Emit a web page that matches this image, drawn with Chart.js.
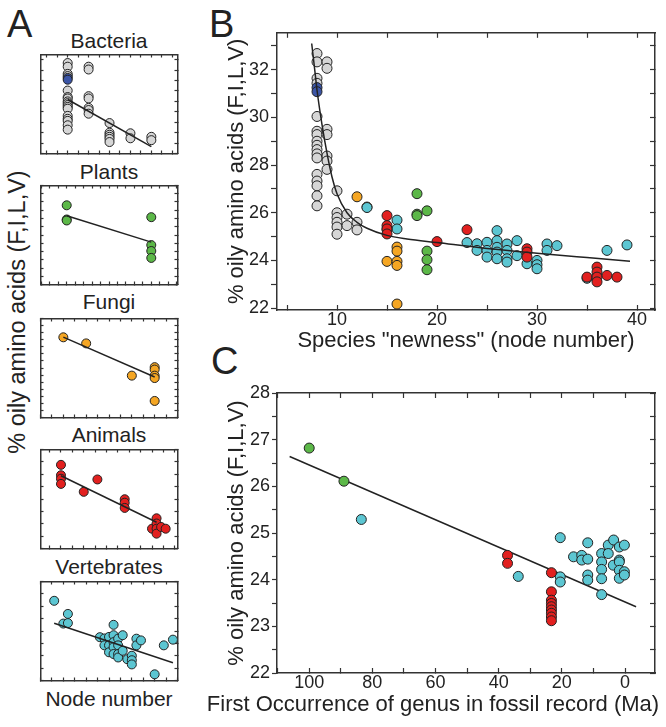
<!DOCTYPE html>
<html>
<head>
<meta charset="utf-8">
<script src="https://cdn.jsdelivr.net/npm/chart.js@4.4.1/dist/chart.umd.min.js"></script>
<style>
  body { margin: 0; background: #fff; }
  #fig { position: relative; width: 666px; height: 727px; overflow: hidden; font-family: 'Liberation Sans', Arial, sans-serif; color: #222; }
  #fig canvas { position: absolute; }
  .lbl { position: absolute; white-space: nowrap; }
  .panel { font-size: 38px; line-height: 38px; }
  .sub { font-size: 21px; line-height: 21px; width: 200px; left: 9px; text-align: center; }
  #ytA { font-size: 23.5px; line-height: 28px; width: 340px; left: -153px; top: 298px; text-align: center; transform: rotate(-90deg); }
</style>
</head>
<body>
<div id="fig">
  <div class="lbl panel" style="left:7px;top:5px">A</div>
  <div class="lbl panel" style="left:209px;top:5px">B</div>
  <div class="lbl panel" style="left:211px;top:342px">C</div>

  <div class="lbl sub" style="top:30px">Bacteria</div>
  <div class="lbl sub" style="top:161px">Plants</div>
  <div class="lbl sub" style="top:291px">Fungi</div>
  <div class="lbl sub" style="top:424px">Animals</div>
  <div class="lbl sub" style="top:556px">Vertebrates</div>
  <div class="lbl sub" style="top:688px">Node number</div>
  <div class="lbl" id="ytA">% oily amino acids (F,I,L,V)</div>

  <canvas id="cBact" width="148" height="110" style="left:35px;top:49px"></canvas>
  <canvas id="cPlant" width="148" height="110" style="left:35px;top:180px"></canvas>
  <canvas id="cFungi" width="148" height="110" style="left:35px;top:313px"></canvas>
  <canvas id="cAnimal" width="148" height="110" style="left:35px;top:444px"></canvas>
  <canvas id="cVert" width="148" height="110" style="left:35px;top:576px"></canvas>
  <canvas id="cB" width="466" height="345" style="left:200px;top:20px"></canvas>
  <canvas id="cC" width="466" height="347" style="left:200px;top:380px"></canvas>
</div>

<script>
// ---------------------------------------------------------------------------
// Dades: node (x) i % d'aminoàcids oliosos (y) per grup
// ---------------------------------------------------------------------------
const bactX = [8, 8, 8, 8, 8, 8, 8, 8, 8, 8, 8, 8, 8, 8, 8, 8, 8,
               9, 9, 9, 9, 9, 9, 9,
               10, 10, 10, 10, 10, 10,
               11, 11, 12, 12];
const bactY = [32.68, 32.33, 31.64, 31.43, 30.04, 29.42, 29.28, 29.0, 28.83, 28.65, 28.47, 28.3, 27.61, 27.33, 27.13, 26.71, 26.29,
               32.33, 32.06, 29.5, 29.28, 28.38, 28.17, 27.82,
               26.92, 26.0, 25.8, 25.6, 25.4, 25.1,
               25.94, 25.46, 25.6, 25.28];
const blueX = [8, 8];
const blueY = [31.25, 31.08];

const plantX = [18, 18, 18, 19, 19, 19, 19];
const plantY = [26.8, 25.94, 25.88, 26.08, 24.39, 24.03, 23.61];

const fungiX = [12, 13, 15, 16, 16, 16, 16, 16];
const fungiY = [26.67, 26.24, 23.96, 24.56, 24.39, 23.96, 23.79, 22.17];

const animalX = [15, 15, 15, 15, 20, 23, 29, 29, 29, 35, 36, 36, 36, 36, 37, 38];
const animalY = [25.88, 25.46, 25.32, 25.11, 24.79, 25.29, 24.49, 24.35, 24.14, 23.3, 23.72, 23.51, 23.3, 23.1, 23.37, 23.3];

const vertX = [13, 15, 16, 16, 23, 24, 24, 25, 25, 25, 26, 26, 26, 26, 26, 27, 27, 27, 27,
               28, 28, 29, 30, 30, 30, 31, 31, 32, 35, 37, 39];
const vertY = [26.22, 25.3, 25.69, 25.32, 24.75, 24.7, 24.42, 24.76, 24.42, 24.14, 25.25, 24.83, 24.55, 24.35, 24.07,
               24.69, 24.42, 24.07, 23.93, 24.83, 24.2, 23.86, 24.0, 23.82, 23.65, 24.69, 24.42, 24.62, 23.25, 24.42, 24.65];

// Rectes d'ajust de cada grup (extrems llegits del gràfic)
const bactFitX = [8, 12],   bactFitY = [29.18, 24.66];
const plantFitX = [18, 19], plantFitY = [26.17, 24.57];
const fungiFitX = [12, 16], fungiFitY = [26.68, 23.86];
const animalFitX = [15, 36], animalFitY = [25.44, 23.56];
const vertFitX = [13, 39],  vertFitY = [25.31, 23.72];

// Corba del panell B
const curveX = [7.47, 7.8, 8.0, 8.5, 9.0, 9.5, 10, 11, 12, 13, 15, 17, 20, 25, 30, 35, 39.3];
const curveY = [33.1, 31.9, 31.15, 29.7, 28.5, 27.5, 26.8, 26.0, 25.6, 25.35, 25.05, 24.9, 24.75, 24.5, 24.3, 24.12, 23.97];

// Panell C: primera aparició al registre fòssil (Ma)
const fosPlantX = [100, 89];
const fosPlantY = [26.82, 26.11];
const fosVertX = [83.5, 33.8, 20.5, 20.5, 20.5, 16.3, 13.7, 13.7, 11.8, 11.8, 11.8, 11.8, 7.4, 7.4, 7.4, 7.4, 7.4,
                  5.3, 5.3, 3.6, 3.7, 1.8, 1.8, 1.8, 1.8, 1.8, 0.2, 0.2, 0.2];
const fosVertY = [25.29, 24.07, 24.9, 24.06, 23.95, 24.49, 24.52, 24.42, 24.79, 24.44, 24.1, 23.99, 24.56, 24.38, 24.22, 24.02, 23.68,
                  24.74, 24.56, 24.85, 24.31, 24.7, 24.42, 24.38, 24.2, 24.03, 24.74, 24.17, 24.1];
const fosAnimalX = [37.2, 37.2, 23.3, 23.3, 23.3, 23.3, 23.3, 23.3, 23.3, 23.3, 23.3];
const fosAnimalY = [24.52, 24.35, 24.15, 23.74, 23.56, 23.49, 23.42, 23.35, 23.28, 23.2, 23.12];
const fosFitX = [106.2, -3.5], fosFitY = [26.64, 23.42];

const GRAY = '#d6d6d6', BLUE = '#3b55a6', GREEN = '#5cb848', ORANGE = '#f5a623', RED = '#e2201f', CYAN = '#5cc6d2';

// ---------------------------------------------------------------------------
Chart.defaults.font.family = "'Liberation Sans', Arial, sans-serif";
Chart.defaults.color = '#222';

function pts(xs, ys) { return xs.map((x, i) => ({ x: x, y: ys[i] })); }

function dots(xs, ys, fill, r) {
    return { data: pts(xs, ys), backgroundColor: fill, borderColor: '#222', borderWidth: 1,
             pointRadius: r, pointHoverRadius: r, showLine: false };
}

function fitLine(xs, ys, extra) {
    return Object.assign({ data: pts(xs, ys), borderColor: '#222', borderWidth: 1.5,
                           pointRadius: 0, showLine: true, fill: false }, extra || {});
}

function axis(pos, min, max, step, o) {
    const horiz = pos === 'top' || pos === 'bottom';
    return {
        type: 'linear', position: pos, min: min, max: max, reverse: !!o.reverse,
        title: o.title ? { display: true, text: o.title, font: { size: 22 }, color: '#222', padding: o.titlePad }
                       : { display: false },
        ticks: {
            display: !!o.every, stepSize: step, includeBounds: false, autoSkip: false,
            maxRotation: 0, minRotation: 0, padding: o.pad || 0, color: '#222', font: { size: 18 },
            callback: v => (o.every && Math.abs(v / o.every - Math.round(v / o.every)) < 1e-6) ? String(Math.round(v)) : ''
        },
        grid: { drawOnChartArea: false, tickLength: o.tick, tickColor: '#333', tickWidth: 1.2 },
        border: { color: '#333', width: 1.5 },
        afterFit: s => { if (horiz) s.height = o.size; else s.width = o.size; }
    };
}

function draw(id, datasets, scales, title) {
    new Chart(document.getElementById(id), {
        type: 'scatter',
        data: { datasets: datasets },
        options: {
            responsive: false, animation: false, events: [],
            plugins: {
                legend: { display: false }, tooltip: { enabled: false },
                title: title || { display: false }
            },
            scales: scales
        }
    });
}

function mini(id, xr, xStep, yr, yStep, datasets) {
    draw(id, datasets, {
        x:  axis('bottom', xr[0], xr[1], xStep, { size: 2, tick: -3 }),
        x2: axis('top',    xr[0], xr[1], xStep, { size: 2, tick: -3 }),
        y:  axis('left',   yr[0], yr[1], yStep, { size: 2, tick: -3 }),
        y2: axis('right',  yr[0], yr[1], yStep, { size: 2, tick: -3 })
    });
}

// Panell A
mini('cBact', [6.7, 13.25], 0.5, [24.0, 33.5], 1, [
    fitLine(bactFitX, bactFitY),
    dots(blueX, blueY, BLUE, 4.5),
    dots(bactX, bactY, GRAY, 4.5)
]);
mini('cPlant', [17.69, 19.31], 0.1, [22, 28], 0.5, [
    fitLine(plantFitX, plantFitY),
    dots(plantX, plantY, GREEN, 4.5)
]);
mini('cFungi', [11, 17], 0.5, [21, 28], 0.5, [
    fitLine(fungiFitX, fungiFitY),
    dots(fungiX, fungiY, ORANGE, 4.5)
]);
mini('cAnimal', [10.5, 40.6], 2.5, [22.5, 26.5], 0.5, [
    fitLine(animalFitX, animalFitY),
    dots(animalX, animalY, RED, 4.5)
]);
mini('cVert', [10, 40], 2.5, [23, 27], 0.5, [
    fitLine(vertFitX, vertFitY),
    dots(vertX, vertY, CYAN, 4.5)
]);

// Panell B
const yTitle = '% oily amino acids (F,I,L,V)';
draw('cB', [
    fitLine(curveX, curveY, { cubicInterpolationMode: 'monotone' }),
    dots(animalX, animalY, RED, 5),
    dots(vertX, vertY, CYAN, 5),
    dots(plantX, plantY, GREEN, 5),
    dots(fungiX, fungiY, ORANGE, 5),
    dots(blueX, blueY, BLUE, 5),
    dots(bactX, bactY, GRAY, 5)
], {
    x:  axis('bottom', 4.0, 41.8, 5, { size: 55, every: 10, tick: -5, pad: 4,
                                       title: 'Species "newness" (node number)', titlePad: { bottom: 11 } }),
    x2: axis('top', 4.0, 41.8, 5, { size: 12, tick: -5 }),
    y:  axis('left', 21.92, 33.55, 1, { size: 77, every: 2, tick: 6, pad: 2,
                                        title: yTitle, titlePad: { top: 24 } }),
    y2: axis('right', 21.92, 33.55, 1, { size: 11, tick: -5 })
});

// Panell C (títol de l'eix x més ample que l'àrea del gràfic: va com a títol del gràfic)
draw('cC', [
    dots(fosAnimalX, fosAnimalY, RED, 5),
    dots(fosVertX, fosVertY, CYAN, 5),
    dots(fosPlantX, fosPlantY, GREEN, 5),
    fitLine(fosFitX, fosFitY)
], {
    x:  axis('bottom', -9.5, 110.2, 10, { reverse: true, size: 18.4, every: 20, tick: -5, pad: 4 }),
    x2: axis('top', -9.5, 110.2, 10, { reverse: true, size: 13, tick: -5 }),
    y:  axis('left', 22, 28, 0.5, { size: 77, every: 1, tick: 5, pad: 2, title: yTitle, titlePad: { top: 24 } }),
    y2: axis('right', 22, 28, 0.5, { size: 11, tick: -5 })
}, {
    display: true, position: 'bottom', text: 'First Occurrence of genus in fossil record (Ma)',
    font: { size: 22, weight: 'normal' }, color: '#222', padding: { top: 0, bottom: 9.2 }
});
</script>
</body>
</html>
